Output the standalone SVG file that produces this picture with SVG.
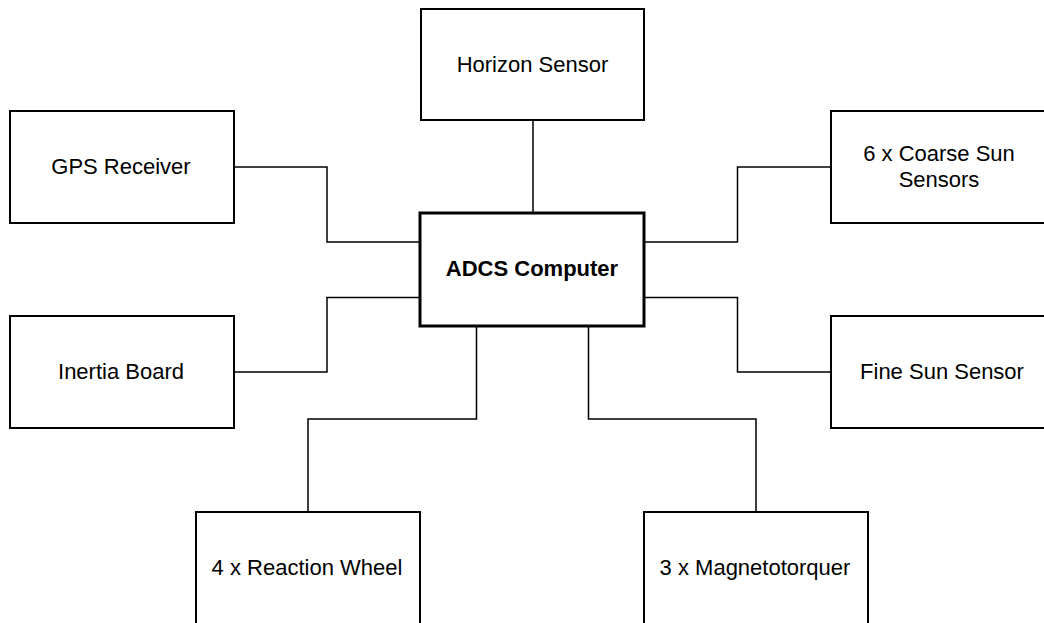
<svg xmlns="http://www.w3.org/2000/svg" width="1044" height="623" viewBox="0 0 1044 623">
<style>
.box{fill:#fff;stroke:#000;stroke-width:2}
.main{fill:#fff;stroke:#000;stroke-width:3}
.lbl{font-family:"Liberation Sans",Arial,sans-serif;font-size:22px;fill:#000;text-anchor:middle}
.bold{font-weight:bold}
.conn{fill:none;stroke:#000;stroke-width:1.5}
</style>
<rect width="1044" height="623" fill="#fff"/>
<g id="connectors">
<path class="conn" d="M533,120 V213"/>
<path class="conn" d="M234,167 H327 V242 H420"/>
<path class="conn" d="M234,372 H327 V297.5 H420"/>
<path class="conn" d="M644,242 H737.5 V167 H831"/>
<path class="conn" d="M644,297.5 H737.5 V372 H831"/>
<path class="conn" d="M476.5,326 V419 H308 V512"/>
<path class="conn" d="M588.5,326 V419 H756 V512"/>
</g>
<g id="horizon-sensor">
<rect class="box" x="421" y="9" width="223" height="111"/>
<text class="lbl" x="532.5" y="72">Horizon Sensor</text>
</g>
<g id="gps-receiver">
<rect class="box" x="10" y="111" width="224" height="112"/>
<text class="lbl" x="121" y="174">GPS Receiver</text>
</g>
<g id="coarse-sun-sensors">
<rect class="box" x="831" y="111" width="224" height="112"/>
<text class="lbl" x="939" y="161">6 x Coarse Sun</text>
<text class="lbl" x="939" y="187">Sensors</text>
</g>
<g id="adcs-computer">
<rect class="main" x="420" y="213" width="224" height="113"/>
<text class="lbl bold" x="532" y="276">ADCS Computer</text>
</g>
<g id="inertia-board">
<rect class="box" x="10" y="316" width="224" height="112"/>
<text class="lbl" x="121" y="379">Inertia Board</text>
</g>
<g id="fine-sun-sensor">
<rect class="box" x="831" y="316" width="224" height="112"/>
<text class="lbl" x="942" y="379">Fine Sun Sensor</text>
</g>
<g id="reaction-wheel">
<rect class="box" x="196" y="512" width="224" height="112"/>
<text class="lbl" x="307" y="575">4 x Reaction Wheel</text>
</g>
<g id="magnetotorquer">
<rect class="box" x="644" y="512" width="224" height="112"/>
<text class="lbl" x="755" y="575">3 x Magnetotorquer</text>
</g>
</svg>
